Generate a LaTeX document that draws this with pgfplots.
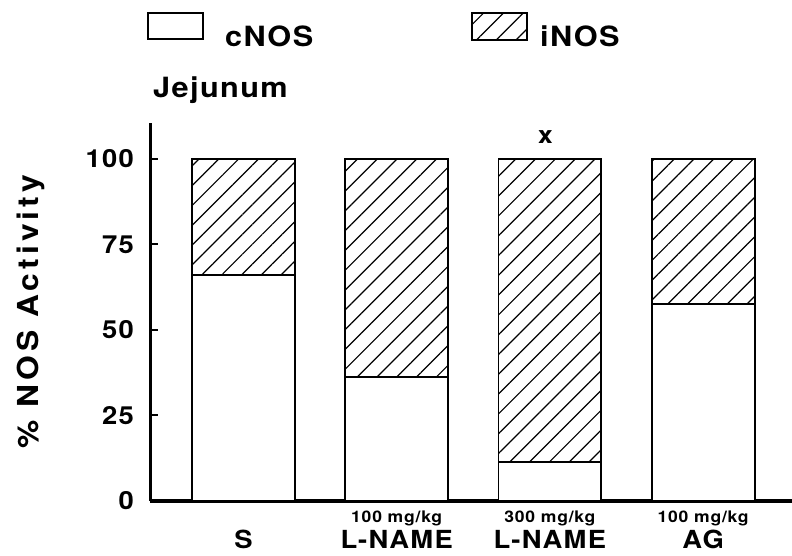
\documentclass[border=0pt]{standalone}
\usepackage{pgfplots}
\pgfplotsset{compat=1.18}
\usepackage{pgfplotstable}
\usepackage{fontspec}
\setmainfont{TeX Gyre Heros}[FakeStretch=1.1, LetterSpace=5]
\newfontfamily\ylabfont{TeX Gyre Heros}[FakeStretch=1.1, LetterSpace=14]
\usetikzlibrary{patterns.meta}

% share of NOS activity (%) in jejunum, per treatment group
\pgfplotstableread{
x cNOS iNOS
0 66.0 34.0
1 36.3 63.7
2 11.5 88.5
3 57.6 42.4
}\nosdata

\tikzset{hatch/.style={pattern={Lines[angle=45,distance=14bp,line width=1.2bp]}, pattern color=black}}
\newcommand\fs[1]{\fontsize{#1}{#1}\selectfont\bfseries}

\begin{document}
\begin{tikzpicture}
\path[use as bounding box] (0,0) rectangle (792bp,556bp);
% key
\draw[line width=1.8bp] (148bp,517bp) rectangle (203bp,543bp);
\node[anchor=base west, inner sep=0] at (225bp,509bp) {\fs{28}cNOS};
\draw[line width=1.8bp, hatch] (472bp,516bp) rectangle (527bp,543bp);
\node[anchor=base west, inner sep=0] at (540bp,509bp) {\fs{28}iNOS};
\node[anchor=base west, inner sep=0] at (153bp,458bp) {\fs{28}Jejunum};
\begin{axis}[
  at={(150bp,55bp)}, anchor=south west,
  width=642bp, height=378bp, scale only axis,
  ybar stacked, bar width=0.672,
  xmin=-0.61, xmax=3.58, ymin=0, ymax=110.5,
  axis x line=bottom, axis y line=left,
  axis line style={line width=3bp, -},
  ytick={0,25,50,75,100},
  xtick=data,
  xticklabels={
    {\fs{16}\phantom{1}\\[1bp]S},
    {\fs{16}100 mg/kg\\[1bp]L-NAME},
    {\fs{16}300 mg/kg\\[1bp]L-NAME},
    {\fs{16}100 mg/kg\\[1bp]AG}},
  x tick style={draw=none},
  y tick style={line width=2bp, black},
  tick align=inside, major tick length=8bp,
  /pgf/number format/assume math mode=true,
  yticklabel style={font=\fs{25}, inner sep=0pt, anchor=east, xshift=-16bp},
  xticklabel style={font=\fs{25}, align=center, inner sep=0pt, anchor=north, yshift=-10bp},
  ylabel={\% NOS Activity},
  every axis y label/.style={at={(axis description cs:-0.185,0.5)}, rotate=90, anchor=center, font=\ylabfont\fs{29}},
  clip=false,
]
\addplot[fill=white, draw=black, line width=1.8bp] table[x=x, y=cNOS] {\nosdata};
\addplot[hatch, draw=black, line width=1.8bp] table[x=x, y=iNOS] {\nosdata};
\node[anchor=base, font=\fs{24}] at (axis cs:1.97,100) [yshift=15bp] {x};
\end{axis}
\end{tikzpicture}
\end{document}
